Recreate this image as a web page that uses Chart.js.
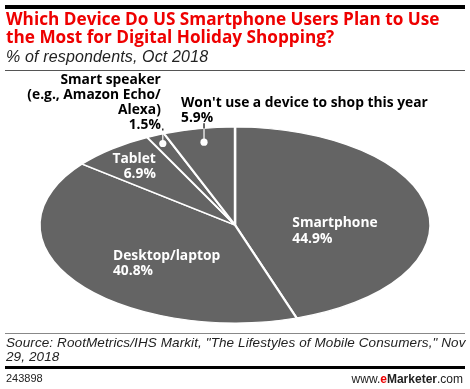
<!DOCTYPE html>
<html>
<head>
<meta charset="utf-8">
<script src="https://cdn.jsdelivr.net/npm/chart.js@4.4.0/dist/chart.umd.min.js"></script>
<style>
  html, body { margin: 0; padding: 0; background: #fff; }
  #wrap { position: relative; width: 470px; height: 389px; overflow: hidden; background: #fff; }
  #c { position: absolute; left: 0; top: 0; }
  .abs { position: absolute; white-space: nowrap; }
  #topbar { left: 5px; top: 5px; width: 460px; height: 4px; background: #000; }
  #title { left: 6px; top: 10px; font: bold 17.2px "Open Sans", sans-serif; color: #ee0000; line-height: 18px; letter-spacing: 0px; }
  #sub { left: 6px; top: 47.5px; font: italic 16px "Liberation Sans", Arial, sans-serif; color: #222; letter-spacing: 0.15px; }
  #line1 { left: 5px; top: 70px; width: 460px; height: 1px; background: #555; }
  #line2 { left: 5px; top: 333px; width: 460px; height: 1px; background: #888; }
  #src { left: 6px; top: 336px; font: italic 13.5px "Liberation Sans", Arial, sans-serif; color: #222; line-height: 13.5px; letter-spacing: 0.1px; }
  #line3 { left: 5px; top: 366px; width: 460px; height: 3px; background: #000; }
  #id { left: 6px; top: 372px; font: 11px "Liberation Sans", Arial, sans-serif; color: #222; }
  #brand { right: 7px; top: 372px; font: 12px "Liberation Sans", Arial, sans-serif; color: #222; }
  #brand b { font-weight: bold; }
  #brand .e { color: #e00; }
</style>
</head>
<body>
<div id="wrap">
  <canvas id="c" width="470" height="389"></canvas>
  <div class="abs" id="topbar"></div>
  <div class="abs" id="title">Which Device Do US Smartphone Users Plan to Use<br>the Most for Digital Holiday Shopping?</div>
  <div class="abs" id="sub">% of respondents, Oct 2018</div>
  <div class="abs" id="line1"></div>
  <div class="abs" id="line2"></div>
  <div class="abs" id="src">Source: RootMetrics/IHS Markit, "The Lifestyles of Mobile Consumers," Nov<br>29, 2018</div>
  <div class="abs" id="line3"></div>
  <div class="abs" id="id">243898</div>
  <div class="abs" id="brand">www.<b class="e">e</b><b>Marketer</b>.com</div>
</div>
<script>
// ---- data ----
const categories = ['Smartphone', 'Desktop/laptop', 'Tablet', 'Smart speaker (e.g., Amazon Echo/Alexa)', "Won't use a device to shop this year"];
const values = [44.9, 40.8, 6.9, 1.5, 5.9];
const labelLines = [
  ['Smartphone'],
  ['Desktop/laptop'],
  ['Tablet'],
  ['Smart speaker', '(e.g., Amazon Echo/', 'Alexa)'],
  ["Won't use a device to shop this year"]
];

// ---- styling / layout ----
const SLICE_COLOR = '#646464';
const ELLIPSE = { cx: 235, cy: 225, rx: 195.5, ry: 98 };
const LABEL_FONT = 'bold 13.8px "Open Sans", sans-serif';
const placements = [
  { mode: 'in', f: 0.518, dy: 13, align: 'left', lh: 15.5 },
  { mode: 'in', f: 0.427, dy: 13.4, align: 'left', lh: 15.5 },
  { mode: 'in', f: 0.819, dy: 3, align: 'right', lh: 15 },
  { mode: 'out', f: 0.91, lead: 13, align: 'right', dx: -2, lh: 15.3 },
  { mode: 'out', f: 0.86, lead: 19, align: 'left', dx: -23, lh: 15 }
];

function pt(angle, f) {
  return {
    x: ELLIPSE.cx + ELLIPSE.rx * f * Math.cos(angle),
    y: ELLIPSE.cy + ELLIPSE.ry * f * Math.sin(angle)
  };
}

const ellipsePlugin = {
  id: 'ellipse',
  beforeDatasetsDraw(chart) {
    const arc = chart.getDatasetMeta(0).data[0];
    const R = arc.outerRadius;
    const ctx = chart.ctx;
    ctx.save();
    ctx.translate(ELLIPSE.cx, ELLIPSE.cy);
    ctx.scale(ELLIPSE.rx / R, ELLIPSE.ry / R);
    ctx.translate(-arc.x, -arc.y);
  },
  afterDatasetsDraw(chart) {
    const ctx = chart.ctx;
    ctx.restore();
    const meta = chart.getDatasetMeta(0);
    ctx.save();
    ctx.font = LABEL_FONT;
    meta.data.forEach((arc, i) => {
      const p = placements[i];
      const mid = (arc.startAngle + arc.endAngle) / 2;
      const a = pt(mid, p.f);
      const lines = labelLines[i].concat([values[i].toFixed(1) + '%']);
      const capHalf = 4.9;
      if (p.mode === 'in') {
        ctx.fillStyle = '#ffffff';
        const maxW = Math.max(...lines.map(l => ctx.measureText(l).width));
        const cy = a.y + p.dy;
        const y0 = cy - p.lh * (lines.length - 1) / 2 + capHalf;
        ctx.textAlign = p.align;
        ctx.textBaseline = 'alphabetic';
        const x = p.align === 'left' ? a.x - maxW / 2 : a.x + maxW / 2;
        lines.forEach((l, k) => ctx.fillText(l, x, y0 + k * p.lh));
      } else {
        // dot
        ctx.fillStyle = '#ffffff';
        ctx.beginPath();
        ctx.arc(a.x, a.y, 3.6, 0, Math.PI * 2);
        ctx.fill();
        // leader
        const top = a.y - p.lead;
        const edge = ELLIPSE.cy - ELLIPSE.ry * 0.985;
        ctx.strokeStyle = '#ffffff';
        ctx.lineWidth = 1.2;
        ctx.beginPath();
        ctx.moveTo(a.x, a.y);
        ctx.lineTo(a.x, edge);
        ctx.stroke();
        ctx.strokeStyle = '#000000';
        ctx.beginPath();
        ctx.moveTo(a.x, edge);
        ctx.lineTo(a.x, top);
        ctx.stroke();
        // text
        ctx.fillStyle = '#000000';
        ctx.textAlign = p.align;
        ctx.textBaseline = 'alphabetic';
        const x = a.x + p.dx;
        const yLast = top - 1;
        lines.forEach((l, k) => ctx.fillText(l, x, yLast - (lines.length - 1 - k) * p.lh));
      }
    });
    ctx.restore();
  }
};

new Chart(document.getElementById('c'), {
  type: 'pie',
  data: {
    labels: categories,
    datasets: [{
      data: values,
      backgroundColor: SLICE_COLOR,
      borderColor: '#ffffff',
      borderWidth: 2.4,
      hoverOffset: 0
    }]
  },
  options: {
    responsive: false,
    devicePixelRatio: 1,
    animation: false,
    events: [],
    layout: { padding: { left: 41, right: 41, top: 0, bottom: 0 } },
    plugins: {
      legend: { display: false },
      tooltip: { enabled: false },
      title: { display: false }
    }
  },
  plugins: [ellipsePlugin]
});
</script>
</body>
</html>
